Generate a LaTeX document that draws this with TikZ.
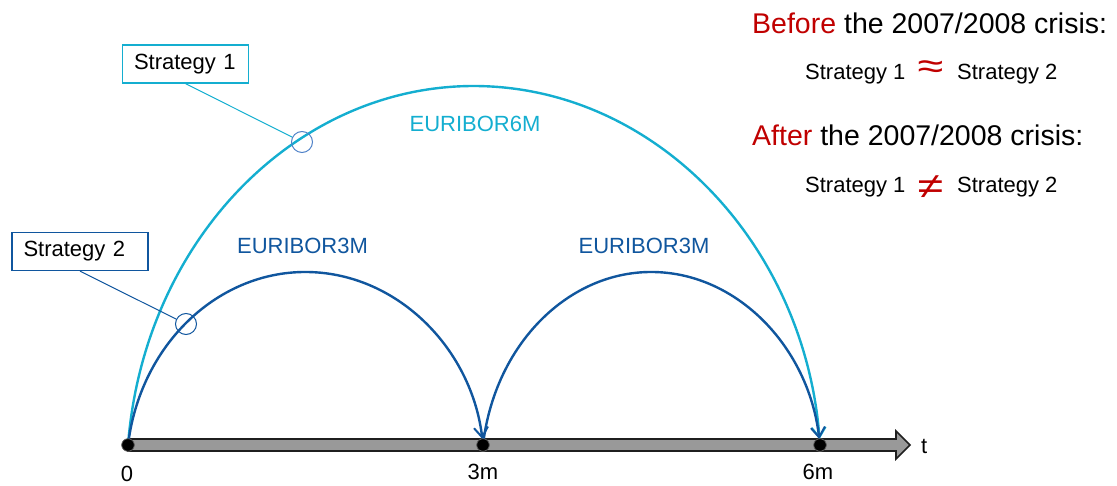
\documentclass[tikz,border=0pt]{standalone}
\usepackage{fontspec}
\setmainfont{Liberation Sans}
\usetikzlibrary{arrows.meta}
\definecolor{cyanarc}{RGB}{20,174,208}
\definecolor{bluearc}{RGB}{16,86,158}
\definecolor{ringblue}{RGB}{80,130,200}
\definecolor{redtxt}{RGB}{192,0,0}
\definecolor{shaftgray}{RGB}{153,153,153}
\tikzset{
  lbl/.style={font=\fontsize{22}{26}\selectfont, inner sep=0pt},
  head/.style={font=\fontsize{28.5}{32}\selectfont, inner sep=0pt, anchor=base west},
  sym/.style={font=\fontsize{36}{36}\selectfont, inner sep=0pt, text=redtxt},
  calloutbox/.style={draw, line width=1.3pt, fill=white, font=\fontsize{22}{26}\selectfont,
     inner xsep=11.5pt, inner ysep=0pt, minimum height=38pt, align=left},
  ring/.style={circle, draw, line width=1pt, minimum size=21pt, inner sep=0pt},
  dotnode/.style={circle, fill=black, draw=black!60, line width=0.6pt, minimum size=12.5pt, inner sep=0pt},
  arcline/.style={line width=2.4pt, -{Straight Barb[length=10pt,width=14pt,line width=2pt]}, shorten >=6pt},
  leader/.style={line width=1pt}
}
\begin{document}
\begin{tikzpicture}[x=1pt,y=-1pt]
\useasboundingbox (0,0) rectangle (1117,486);
% time axis
\draw[fill=shaftgray, draw=black!88, line width=1.6pt, line join=miter]
  (128,439) -- (896,439) -- (896,431) -- (910,445) -- (896,459) -- (896,451) -- (128,451) -- cycle;
% points on the axis
\node[dotnode] (d0) at (128,445) {};
\node[dotnode] (d3) at (483,445) {};
\node[dotnode] (d6) at (820,445) {};
% arcs
\draw[arcline, cyanarc] (d0.center) arc[start angle=185.1, end angle=354.9, x radius=347.4, y radius=394];
\draw[arcline, bluearc] (d0.center) arc[start angle=187.76, end angle=352.24, x radius=179.2, y radius=200];
\draw[arcline, bluearc] (d3.center) arc[start angle=187.76, end angle=352.24, x radius=170.05, y radius=200];
\node[dotnode] at (d0) {};
\node[dotnode] at (d3) {};
\node[dotnode] at (d6) {};
% axis labels
\node[lbl, anchor=base] (l0) at (127,481) {0};
\node[lbl, anchor=base] (l3) at (483,479) {3m};
\node[lbl, anchor=base] (l6) at (818,479) {6m};
\node[lbl, anchor=base west] (lt) at (921,453) {t};
% rate labels
\node[lbl, anchor=base, text=cyanarc] (e6) at (475,132) {EURIBOR6M};
\node[lbl, anchor=base, text=bluearc] (e3a) at (302.5,254) {EURIBOR3M};
\node[lbl, anchor=base, text=bluearc] (e3b) at (644,254) {EURIBOR3M};
% callouts
\node[ring, draw=ringblue] (c1) at (302,142) {};
\node[ring, draw=bluearc] (c2) at (186,324) {};
\node[calloutbox, draw=cyanarc, text width=103pt] (s1) at (185.5,64) {Strategy 1};
\node[calloutbox, draw=bluearc, text width=113pt] (s2) at (80,251.5) {Strategy 2};
\draw[leader, cyanarc] (s1.south) -- (c1);
\draw[leader, bluearc] (s2.south) -- (c2);
% right panel
\node[head] (h1) at (752,34) {\textcolor{redtxt}{Before} the 2007/2008 crisis:};
\node[lbl, anchor=base west] (a1) at (805,80) {Strategy 1};
\node[sym] (q1) at (930.5,70) {\scalebox{1.3}[1]{≈}};
\node[lbl, anchor=base west] (b1) at (957,80) {Strategy 2};
\node[head] (h2) at (752,146) {\textcolor{redtxt}{After} the 2007/2008 crisis:};
\node[lbl, anchor=base west] (a2) at (805,193) {Strategy 1};
\node[sym] (q2) at (930.5,187) {\scalebox{1.3}[1]{≠}};
\node[lbl, anchor=base west] (b2) at (957,193) {Strategy 2};
\end{tikzpicture}
\end{document}
